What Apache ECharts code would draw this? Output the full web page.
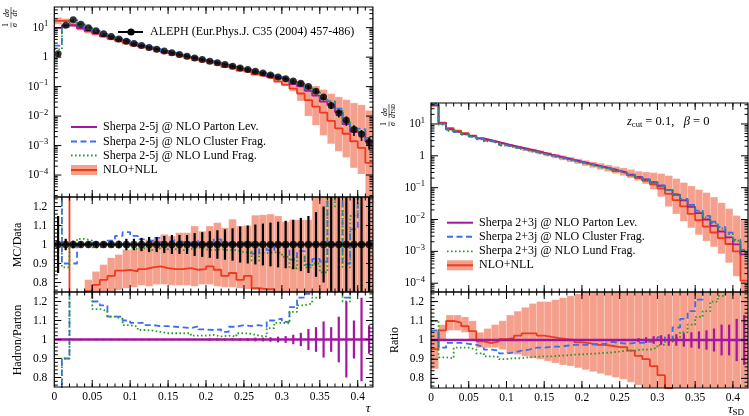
<!DOCTYPE html>
<html><head><meta charset="utf-8">
<script src="https://cdn.jsdelivr.net/npm/echarts@6/dist/echarts.min.js"></script>
<style>html,body{margin:0;padding:0;background:#fff}#c{width:749px;height:416px}</style>
</head><body><div id="c"></div>
<script>
// ---------- bins ----------
const binEdges = [0,0.01,0.02,0.03,0.04,0.05,0.06,0.07,0.08,0.09,0.1,0.11,0.12,0.13,0.14,0.15,0.16,0.17,0.18,0.19,0.2,0.21,0.22,0.23,0.24,0.25,0.26,0.27,0.28,0.29,0.3,0.31,0.32,0.33,0.34,0.35,0.36,0.37,0.38,0.39,0.4,0.41,0.42];
const xTickValues = [0,0.05,0.1,0.15,0.2,0.25,0.3,0.35,0.4];
const xTickLabels = ['0','0.05','0.1','0.15','0.2','0.25','0.3','0.35','0.4'];
const ratioTickValues = [0.8,0.9,1,1.1,1.2];
const ratioTickLabels = ['0.8','0.9','1','1.1','1.2'];
const logTickExponents = [-4,-3,-2,-1,0,1];

// ---------- left: thrust tau ----------
const alephVal = [1.3,12.0,18.5,13.0,10.0,7.8,6.2,5.0,4.1,3.45,2.9,2.48,2.13,1.85,1.6,1.4,1.22,1.07,0.94,0.83,0.73,0.64,0.56,0.49,0.43,0.38,0.335,0.29,0.25,0.21,0.185,0.155,0.13,0.10,0.07,0.044,0.023,0.0128,0.0072,0.0035,0.0024,0.0013];
const alephErr = [0.15,0.03,0.02,0.015,0.015,0.015,0.015,0.015,0.02,0.03,0.03,0.035,0.04,0.04,0.045,0.05,0.05,0.05,0.06,0.065,0.07,0.075,0.08,0.085,0.095,0.1,0.105,0.11,0.115,0.12,0.125,0.13,0.14,0.15,0.17,0.2,0.25,0.3,0.35,0.4,0.4,0.45];
const clusterOverData = [1.9,0.9,0.9,1.0,1.01,1.01,1.0,1.02,1.045,1.065,1.045,1.027,1.018,1.035,1.014,1.023,1.014,1.01,1.018,1.0,1.005,1.027,0.995,1.01,0.995,1.012,0.952,0.995,0.97,1.005,0.988,0.92,0.965,0.894,0.924,0.91,1.4,1.4,0.9,1.08,1.5,1.4];
const lundOverData = [1.4,0.88,1.0,1.03,1.02,0.985,0.99,0.985,0.99,0.985,0.975,0.98,0.97,0.98,0.975,0.975,0.97,0.975,0.985,0.975,0.97,0.975,0.97,0.97,0.96,0.955,0.915,0.955,0.96,0.955,0.935,0.875,0.935,0.88,0.9,0.853,1.35,1.2,0.88,1.15,1.3,1.3];
const nllOverData = [13,1.4,0.7,0.72,0.755,0.787,0.814,0.835,0.862,0.867,0.858,0.87,0.88,0.885,0.876,0.87,0.87,0.876,0.867,0.87,0.885,0.867,0.835,0.85,0.814,0.835,0.77,0.765,0.765,0.7,0.62,0.55,0.45,0.35,0.3,0.3,0.3,0.3,0.35,0.4,0.35,0.2];
const nllBandLoOverData = [10,1.3,0.6,0.62,0.65,0.7,0.73,0.75,0.76,0.77,0.775,0.785,0.78,0.79,0.79,0.785,0.785,0.785,0.78,0.79,0.79,0.78,0.775,0.775,0.77,0.765,0.76,0.75,0.73,0.68,0.6,0.45,0.25,0.1,0.07,0.05,0.05,0.05,0.055,0.05,0.045,0.01];
const nllBandHiOverData = [17,1.7,0.73,0.74,0.815,0.858,0.894,0.93,0.947,0.973,0.975,0.99,1.027,1.03,1.053,1.044,1.062,1.062,1.097,1.07,1.097,1.115,1.088,1.133,1.097,1.1,1.154,1.156,1.16,1.15,1.12,1.13,1.13,1.13,1.5,1.8,2.5,3.5,5,8,10,12];
const clusterOverParton = [0.25,0.9,1.45,1.35,1.28,1.2,1.18,1.12,1.12,1.1,1.088,1.088,1.076,1.07,1.07,1.067,1.064,1.06,1.07,1.053,1.05,1.053,1.04,1.067,1.076,1.07,1.076,1.067,1.1,1.11,1.093,1.17,1.22,1.24,1.3,1.3,1.35,1.3,1.22,1.3,1.3,1.3];
const lundOverParton = [0.3,0.9,1.4,1.35,1.3,1.16,1.15,1.12,1.11,1.076,1.067,1.05,1.047,1.04,1.033,1.033,1.033,1.033,1.02,1.02,1.024,1.016,1.02,1.016,1.033,1.03,1.02,1.016,1.06,1.088,1.085,1.145,1.18,1.19,1.22,1.3,1.3,1.3,1.2,1.3,1.3,1.3];
const partonErrL = [0.004,0.004,0.004,0.004,0.004,0.004,0.004,0.004,0.004,0.004,0.004,0.004,0.004,0.004,0.004,0.004,0.004,0.004,0.004,0.004,0.006,0.006,0.006,0.006,0.006,0.008,0.01,0.01,0.012,0.015,0.018,0.025,0.035,0.055,0.065,0.095,0.065,0.12,0.2,0.1,0.22,0.075];

// ---------- right: soft-drop tau_SD ----------
const partonSD = [40,10.5,6.76,5.62,4.79,4.12,3.55,3.09,2.69,2.34,2.04,1.8,1.58,1.4,1.23,1.08,0.955,0.84,0.74,0.653,0.575,0.507,0.447,0.394,0.343,0.299,0.257,0.219,0.182,0.148,0.115,0.085,0.06,0.04,0.025,0.0158,0.01,0.0063,0.0042,0.00275,0.00166,0.0008];
const clusterOverPartonSD = [1.05,0.96,0.985,0.985,0.98,0.975,0.965,0.95,0.945,0.93,0.935,0.945,0.95,0.96,0.96,0.965,0.965,0.97,0.975,0.975,0.975,0.98,0.98,0.99,0.985,0.98,0.985,0.985,0.99,1.0,1.015,1.0,1.065,1.11,1.15,1.21,1.3,1.35,1.4,1.4,1.4,1.4];
const lundOverPartonSD = [1.1,0.91,0.905,0.96,0.96,0.95,0.93,0.915,0.912,0.9,0.905,0.905,0.91,0.913,0.915,0.915,0.918,0.92,0.924,0.925,0.928,0.93,0.933,0.935,0.94,0.945,0.945,0.95,0.95,0.96,0.975,0.99,1.01,1.04,1.08,1.12,1.15,1.2,1.23,1.27,1.3,1.3];
const nllOverPartonSD = [0.952,1.05,1.099,1.09,1.072,1.046,0.993,0.984,0.993,1.005,1.01,1.023,1.034,1.034,1.023,1.016,1.01,1.005,1.0,0.988,0.984,0.975,0.975,0.97,0.963,0.963,0.945,0.917,0.9,0.864,0.817,0.75,0.68,0.65,0.6,0.6,0.6,0.62,0.62,0.62,0.6,0.15];
const nllBandLoSD = [0.85,1.0,1.05,1.05,1.04,1.0,0.96,0.96,0.96,0.95,0.93,0.925,0.915,0.905,0.9,0.89,0.88,0.87,0.865,0.855,0.845,0.835,0.825,0.815,0.805,0.795,0.78,0.765,0.72,0.6,0.45,0.3,0.25,0.22,0.22,0.21,0.21,0.22,0.2,0.16,0.1,0.02];
const nllBandHiSD = [1.05,1.08,1.13,1.13,1.12,1.1,1.04,1.06,1.08,1.1,1.13,1.15,1.17,1.19,1.2,1.2,1.21,1.22,1.23,1.24,1.25,1.27,1.3,1.32,1.35,1.4,1.45,1.5,1.7,2.0,2.4,2.8,3.2,3.6,4.5,5.5,7,8,8,8,8,12];
const partonErrSD = [0.005,0.005,0.005,0.005,0.005,0.005,0.005,0.005,0.005,0.005,0.005,0.005,0.005,0.005,0.005,0.005,0.005,0.005,0.005,0.005,0.005,0.005,0.005,0.005,0.005,0.005,0.005,0.01,0.015,0.02,0.025,0.03,0.03,0.035,0.04,0.045,0.05,0.06,0.08,0.08,0.11,0.13];

// ---------- helpers ----------
const FONT = '"Liberation Serif","Times New Roman",serif';
const C = {purple:'#a3179f', blue:'#3c6ef2', green:'#2a9a2a', red:'#ec3b1e', band:'#f5a08d'};
const mul = (a,b)=>a.map((v,i)=>v*b[i]);
const div = (a,b)=>a.map((v,i)=>v/b[i]);
const centers = binEdges.slice(0,-1).map((e,i)=>(e+binEdges[i+1])/2);
function stepData(vals){ const d=vals.map((v,i)=>[binEdges[i],v]); d.push([binEdges[vals.length], vals[vals.length-1]]); return d; }
function bandItems(lo,hi){ return lo.map((v,i)=>[binEdges[i],binEdges[i+1],v,hi[i]]); }
function errItems(vals,rel){ return vals.map((v,i)=>[centers[i], v*(1-rel[i]), v*(1+rel[i])]); }

function stepLine(gi, vals, color, kind, width){
  const ls = {color, width: width||1.8};
  if (kind==='dash') ls.type=[6,3.5];
  if (kind==='dot') { ls.type=[1.6,2.4]; ls.width = 1.8; }
  return {type:'line', xAxisIndex:gi, yAxisIndex:gi, step:'end', showSymbol:false, symbol:'none',
    data: stepData(vals), lineStyle: ls, z:3, silent:true, clip:true};
}
function bandSeries(gi, lo, hi){
  return {type:'custom', xAxisIndex:gi, yAxisIndex:gi, z:1, silent:true,
    encode:{x:[0,1], y:[2,3]}, data: bandItems(lo,hi),
    renderItem:(params, api)=>{
      const cs=params.coordSys;
      const p0=api.coord([api.value(0), api.value(3)]);
      const p1=api.coord([api.value(1), api.value(2)]);
      const r=echarts.graphic.clipRectByRect({x:p0[0],y:p0[1],width:p1[0]-p0[0],height:p1[1]-p0[1]},{x:cs.x,y:cs.y,width:cs.width,height:cs.height});
      if(!r) return null;
      return {type:'rect', shape:r, style:{fill:C.band, stroke:'rgba(255,255,255,0.35)', lineWidth:0.5}};
    }};
}
function errSeries(gi, items, color, w){
  return {type:'custom', xAxisIndex:gi, yAxisIndex:gi, z:4, silent:true,
    encode:{x:0, y:[1,2]}, data: items,
    renderItem:(params, api)=>{
      const cs=params.coordSys;
      const a=api.coord([api.value(0), api.value(1)]), b=api.coord([api.value(0), api.value(2)]);
      const cl=y=>Math.max(cs.y, Math.min(cs.y+cs.height, y));
      const y1=cl(a[1]), y2=cl(b[1]);
      if(Math.abs(y1-y2)<0.2) return null;
      return {type:'line', shape:{x1:a[0],y1,x2:a[0],y2}, style:{stroke:color, lineWidth:w}};
    }};
}
// frame + inward ticks (axis decoration)
const xMinor=[]; for(let i=0;i<=42;i++) xMinor.push(i/100);
const logMajor = logTickExponents.map(e=>Math.pow(10,e));
const logMinor=[]; for(let e=-5;e<=1;e++) for(let k=2;k<=9;k++) logMinor.push(k*Math.pow(10,e));
const ratioMinor=[]; for(let i=38;i<=62;i++) ratioMinor.push(i/50);
function frame(gi, yMajor, yMinor, yRef){
  return {type:'custom', xAxisIndex:gi, yAxisIndex:gi, z:10, silent:true, data:[[0.2,yRef]],
    renderItem:(params, api)=>{
      const cs=params.coordSys, ch=[];
      const top=cs.y, bot=cs.y+cs.height, left=cs.x, right=cs.x+cs.width;
      const seg=(x1,y1,x2,y2)=>ch.push({type:'line',shape:{x1,y1,x2,y2},style:{stroke:'#000',lineWidth:1}});
      xMinor.forEach(v=>{const x=api.coord([v,yRef])[0]; if(x>left+1&&x<right-1){seg(x,top,x,top+3.5);seg(x,bot,x,bot-3.5);}});
      xTickValues.forEach(v=>{const x=api.coord([v,yRef])[0]; if(x>left+1&&x<right-1){seg(x,top,x,top+7);seg(x,bot,x,bot-7);}});
      yMinor.forEach(v=>{const y=api.coord([0.2,v])[1]; if(y>top+1&&y<bot-1){seg(left,y,left+3.5,y);seg(right,y,right-3.5,y);}});
      yMajor.forEach(v=>{const y=api.coord([0.2,v])[1]; if(y>top+1&&y<bot-1){seg(left,y,left+7,y);seg(right,y,right-7,y);}});
      ch.push({type:'rect',shape:{x:left,y:top,width:cs.width,height:cs.height},style:{fill:'none',stroke:'#000',lineWidth:1.2}});
      return {type:'group',children:ch};
    }};
}

// ---------- derived series ----------
const L_cluster = mul(alephVal, clusterOverData);
const L_lund = mul(alephVal, lundOverData);
const L_nll = mul(alephVal, nllOverData);
const L_parton = div(L_cluster, clusterOverParton);
const L_bandLo = mul(alephVal, nllBandLoOverData);
const L_bandHi = mul(alephVal, nllBandHiOverData);
const L_dataRatio = div(alephVal, alephVal);
const L_partonRatio = div(L_parton, L_parton);

const R_cluster = mul(partonSD, clusterOverPartonSD);
const R_lund = mul(partonSD, lundOverPartonSD);
const R_nll = mul(partonSD, nllOverPartonSD);
const R_bandLo = mul(partonSD, nllBandLoSD);
const R_bandHi = mul(partonSD, nllBandHiSD);
const R_partonRatio = div(partonSD, partonSD);

// ---------- axes ----------
const grids = [
  {left:54.3, top:7, width:318.6, height:190},
  {left:54.3, top:197, width:318.6, height:95},
  {left:54.3, top:292, width:318.6, height:95},
  {left:431, top:103, width:317, height:189},
  {left:431, top:292, width:317, height:96}
];
function xAxisFor(gi, showLabels){
  return {type:'value', gridIndex:gi, min:0, max:0.42, interval:0.05,
    axisLine:{show:false}, axisTick:{show:false}, splitLine:{show:false},
    axisLabel:{show:showLabels, showMaxLabel:false, margin:4, fontFamily:FONT, fontSize:11.5, color:'#000',
      formatter:v=>{const i=xTickValues.findIndex(t=>Math.abs(t-v)<1e-9); return i<0?'':xTickLabels[i];}}};
}
const supRich = {sup:{fontSize:8.5, fontFamily:FONT, color:'#000', verticalAlign:'top', lineHeight:10}};
function logYAxis(gi, min, max){
  return {type:'log', gridIndex:gi, min, max, logBase:10,
    axisLine:{show:false}, axisTick:{show:false}, splitLine:{show:false}, minorTick:{show:false},
    axisLabel:{margin:6, fontFamily:FONT, fontSize:11.5, color:'#000', lineHeight:16, rich:supRich,
      formatter:v=>{const l=Math.log10(v), e=Math.round(l); if(Math.abs(l-e)>1e-6||logTickExponents.indexOf(e)<0) return '';
        return e===0?'1':'10{sup|'+(e<0?'\u2212':'')+Math.abs(e)+'}';}}};
}
function ratioYAxis(gi){
  return {type:'value', gridIndex:gi, min:0.75, max:1.25, interval:0.05,
    axisLine:{show:false}, axisTick:{show:false}, splitLine:{show:false},
    axisLabel:{margin:7, fontFamily:FONT, fontSize:11.5, color:'#000', showMinLabel:false, showMaxLabel:false,
      formatter:v=>{const i=ratioTickValues.findIndex(t=>Math.abs(t-v)<1e-9); return i<0?'':ratioTickLabels[i];}}};
}

const series = [
  // left main
  bandSeries(0, L_bandLo, L_bandHi),
  stepLine(0, L_nll, C.red),
  stepLine(0, L_parton, C.purple),
  stepLine(0, L_cluster, C.blue, 'dash'),
  stepLine(0, L_lund, C.green, 'dot'),
  errSeries(0, errItems(alephVal, alephErr), '#000', 1.6),
  {type:'scatter', xAxisIndex:0, yAxisIndex:0, data:alephVal.map((v,i)=>[centers[i],v]), symbol:'circle', symbolSize:7, itemStyle:{color:'#000'}, z:5, silent:true},
  frame(0, logMajor, logMinor, 1),
  // left MC/Data
  bandSeries(1, nllBandLoOverData, nllBandHiOverData),
  stepLine(1, nllOverData, C.red),
  stepLine(1, clusterOverData, C.blue, 'dash'),
  stepLine(1, lundOverData, C.green, 'dot'),
  Object.assign(stepLine(1, L_dataRatio, '#000', null, 2), {z:4}),
  errSeries(1, errItems(L_dataRatio, alephErr), '#000', 2.2),
  {type:'scatter', xAxisIndex:1, yAxisIndex:1, data:L_dataRatio.map((v,i)=>[centers[i],v]), symbol:'circle', symbolSize:7.5, itemStyle:{color:'#000'}, z:5, silent:true},
  frame(1, ratioTickValues, ratioMinor, 1),
  // left Hadron/Parton
  stepLine(2, clusterOverParton, C.blue, 'dash'),
  stepLine(2, lundOverParton, C.green, 'dot'),
  Object.assign(stepLine(2, L_partonRatio, C.purple, null, 2.6), {z:4}),
  errSeries(2, errItems(L_partonRatio, partonErrL), C.purple, 2.2),
  frame(2, ratioTickValues, ratioMinor, 1),
  // right main
  bandSeries(3, R_bandLo, R_bandHi),
  stepLine(3, R_nll, C.red),
  stepLine(3, partonSD, C.purple),
  stepLine(3, R_cluster, C.blue, 'dash'),
  stepLine(3, R_lund, C.green, 'dot'),
  frame(3, logMajor, logMinor, 1),
  // right ratio
  bandSeries(4, nllBandLoSD, nllBandHiSD),
  stepLine(4, nllOverPartonSD, C.red),
  stepLine(4, clusterOverPartonSD, C.blue, 'dash'),
  stepLine(4, lundOverPartonSD, C.green, 'dot'),
  Object.assign(stepLine(4, R_partonRatio, C.purple, null, 2.6), {z:4}),
  errSeries(4, errItems(R_partonRatio, partonErrSD), C.purple, 2.2),
  frame(4, ratioTickValues, ratioMinor, 1)
];

// ---------- text & legends ----------
const T = (x,y,text,extra)=>Object.assign({type:'text', x, y, silent:true, z:20,
  style:Object.assign({text, fontFamily:FONT, fontSize:12, fill:'#000', align:'left', verticalAlign:'middle'}, (extra&&extra.style)||{})},
  extra&&extra.rotation!==undefined?{rotation:extra.rotation}:{});
const LN = (x1,y1,x2,y2,stroke,w,dash)=>({type:'line', silent:true, z:20, shape:{x1,y1,x2,y2}, style:{stroke, lineWidth:w, lineDash:dash||null}});
function legend(x1,x2,tx,ys,labels){
  const els=[];
  els.push(LN(x1,ys[0],x2,ys[0],C.purple,2));
  els.push(LN(x1,ys[1],x2,ys[1],C.blue,2,[6,3.5]));
  els.push(LN(x1,ys[2],x2,ys[2],C.green,1.8,[1.6,2.4]));
  els.push({type:'rect', silent:true, z:19, shape:{x:x1,y:ys[3]-5,width:x2-x1,height:10}, style:{fill:C.band}});
  els.push(LN(x1,ys[3],x2,ys[3],C.red,2));
  labels.forEach((t,i)=>els.push(T(tx,ys[i],t)));
  return els;
}
function fracLabel(cx, cy, den2){
  return {type:'group', x:cx, y:cy, rotation:Math.PI/2, silent:true, z:20, children:[
    {type:'text', x:-8, y:-4.6, style:{text:'1', fontFamily:FONT, fontSize:8, fill:'#000', align:'center', verticalAlign:'middle'}},
    {type:'line', shape:{x1:-10.5,y1:0,x2:-5.5,y2:0}, style:{stroke:'#000', lineWidth:0.6}},
    {type:'text', x:-8, y:4.2, style:{text:'σ', fontFamily:FONT, fontSize:8, fontStyle:'italic', fill:'#000', align:'center', verticalAlign:'middle'}},
    {type:'text', x:4, y:-4.6, style:{text:'dσ', fontFamily:FONT, fontSize:8, fontStyle:'italic', fill:'#000', align:'center', verticalAlign:'middle'}},
    {type:'line', shape:{x1:-2,y1:0,x2:den2?12:10,y2:0}, style:{stroke:'#000', lineWidth:0.6}},
    {type:'text', x:den2?5:4, y:4.2, style:{text:den2?'{i|dτ}{s|SD}':'dτ', fontFamily:FONT, fontSize:8, fontStyle:'italic', fill:'#000', align:'center', verticalAlign:'middle',
      rich:{i:{fontFamily:FONT,fontSize:8,fontStyle:'italic'}, s:{fontFamily:FONT,fontSize:5.5}}}}
  ]};
}
const graphics = [].concat(
  legend(71,97,103,[127,141.5,155.5,170],['Sherpa 2-5j @ NLO Parton Lev.','Sherpa 2-5j @ NLO Cluster Frag.','Sherpa 2-5j @ NLO Lund Frag.','NLO+NLL']),
  legend(447,473,479,[222.7,236.7,251.3,265.3],['Sherpa 2+3j @ NLO Parton Lev.','Sherpa 2+3j @ NLO Cluster Frag.','Sherpa 2+3j @ NLO Lund Frag.','NLO+NLL']),
  [
    LN(118,32,143,32,'#000',2),
    {type:'circle', silent:true, z:20, shape:{cx:131,cy:32,r:3.6}, style:{fill:'#000'}},
    T(150,32,'ALEPH (Eur.Phys.J. C35 (2004) 457-486)'),
    T(18,245,'MC/Data',{rotation:Math.PI/2, style:{align:'center'}}),
    T(18,340,'Hadron/Parton',{rotation:Math.PI/2, style:{align:'center'}}),
    T(395,340,'Ratio',{rotation:Math.PI/2, style:{align:'center'}}),
    T(368,409,'τ',{style:{fontStyle:'italic', fontSize:13, align:'center'}}),
    T(736,410,'{i|τ}{s|SD}',{style:{align:'center', rich:{i:{fontFamily:FONT,fontSize:13,fontStyle:'italic'}, s:{fontFamily:FONT,fontSize:9, verticalAlign:'bottom', padding:[6,0,0,0]}}}}),
    T(627,122,'{i|z}{s|cut}{n| = 0.1,   }{i|β}{n| = 0}',{style:{rich:{i:{fontFamily:FONT,fontSize:12.5,fontStyle:'italic'}, s:{fontFamily:FONT,fontSize:8.5, verticalAlign:'bottom', padding:[5,0,0,0]}, n:{fontFamily:FONT,fontSize:12.5}}}}),
    fracLabel(11,17,false),
    fracLabel(389,116,true)
  ]
);

const chart = echarts.init(document.getElementById('c'), null, {renderer:'canvas'});
chart.setOption({
  animation:false,
  backgroundColor:'#fff',
  grid: grids.map(g=>Object.assign({show:false, containLabel:false}, g)),
  xAxis: [xAxisFor(0,false), xAxisFor(1,false), xAxisFor(2,true), xAxisFor(3,false), xAxisFor(4,true)],
  yAxis: [logYAxis(0, 1.8e-5, 50.2), ratioYAxis(1), ratioYAxis(2), logYAxis(3, 5.3e-5, 45.5), ratioYAxis(4)],
  series,
  graphic: graphics
});
</script>
</body></html>
